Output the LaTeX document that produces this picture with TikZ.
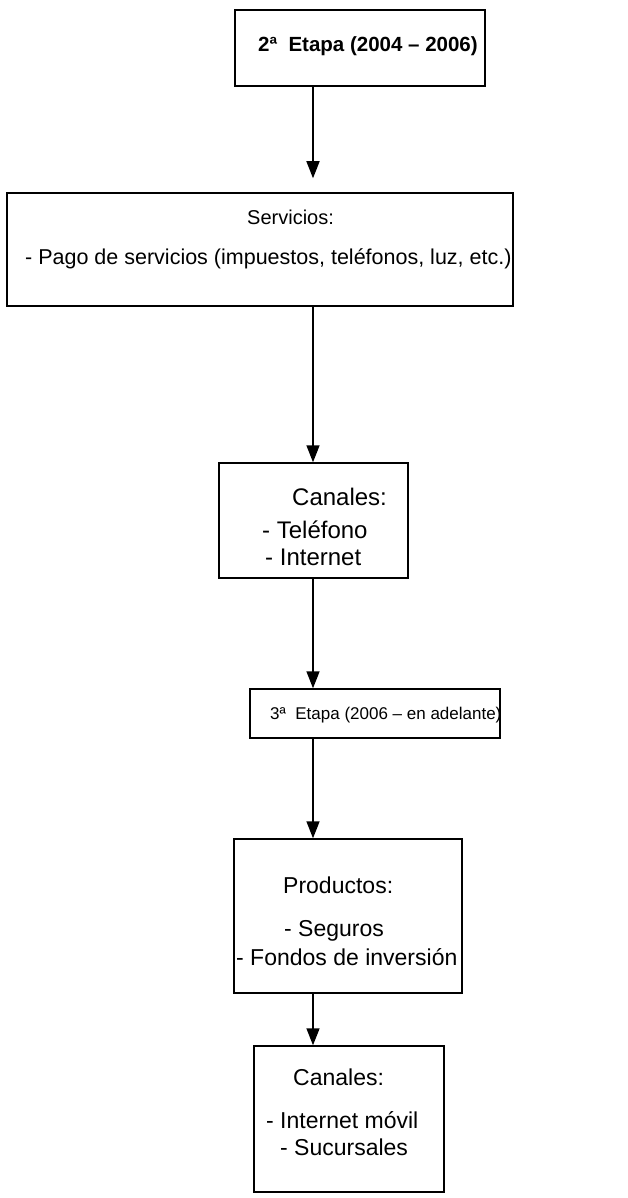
\documentclass[tikz,border=0pt]{standalone}
\usepackage{fontspec}
\setmainfont{Liberation Sans}
\usetikzlibrary{arrows.meta}
\begin{document}
\begin{tikzpicture}[x=1pt,y=-1pt,
  box/.style={draw, line width=1.5pt, inner sep=0pt},
  link/.style={line width=1.7pt, -{Triangle[width=13pt,length=17pt]}},
  txt/.style={anchor=base west, inner sep=0pt}]
\useasboundingbox (0,0) rectangle (627,1198);

% stage and detail boxes
\node[box, minimum width=250pt, minimum height=76pt]  (b1) at (360,48)    {};
\node[box, minimum width=506pt, minimum height=113pt] (b2) at (260,249.5) {};
\node[box, minimum width=189pt, minimum height=115pt] (b3) at (313.5,520.5) {};
\node[box, minimum width=250pt, minimum height=49pt]  (b4) at (375,713.5) {};
\node[box, minimum width=228pt, minimum height=154pt] (b5) at (348,916)   {};
\node[box, minimum width=190pt, minimum height=146pt] (b6) at (349,1119)  {};

% box texts
\node[txt, font=\fontsize{20.5}{24}\selectfont\bfseries] (t1) at (258,52) {2ª\ \ Etapa (2004 – 2006)};
\node[txt, font=\fontsize{20}{24}\selectfont] (t2a) at (247,225) {Servicios:};
\node[txt, font=\fontsize{21.5}{26}\selectfont] (t2b) at (25,265) {- Pago de servicios (impuestos, teléfonos, luz, etc.)};
\node[txt, font=\fontsize{24}{28}\selectfont] (t3a) at (292,505) {Canales:};
\node[txt, font=\fontsize{24}{28}\selectfont] (t3b) at (262,538) {- Teléfono};
\node[txt, font=\fontsize{24}{28}\selectfont] (t3c) at (265,565) {- Internet};
\node[txt, font=\fontsize{17}{20}\selectfont] (t4) at (270,719) {3ª\ \ Etapa (2006 – en adelante)};
\node[txt, font=\fontsize{23}{27}\selectfont] (t5a) at (283,893) {Productos:};
\node[txt, font=\fontsize{23}{27}\selectfont] (t5b) at (284,936) {- Seguros};
\node[txt, font=\fontsize{23}{27}\selectfont] (t5c) at (236,965) {- Fondos de inversión};
\node[txt, font=\fontsize{23}{27}\selectfont] (t6a) at (293,1085) {Canales:};
\node[txt, font=\fontsize{23}{27}\selectfont] (t6b) at (266,1128) {- Internet móvil};
\node[txt, font=\fontsize{23}{27}\selectfont] (t6c) at (280,1155) {- Sucursales};

% vertical connectors
\coordinate (ax) at (313,0);
\draw[link, shorten >=14pt] (b1.south -| ax) -- (b2.north -| ax);
\draw[link] (b2.south -| ax) -- (b3.north -| ax);
\draw[link] (b3.south -| ax) -- (b4.north -| ax);
\draw[link] (b4.south -| ax) -- (b5.north -| ax);
\draw[link] (b5.south -| ax) -- (b6.north -| ax);
\end{tikzpicture}
\end{document}
